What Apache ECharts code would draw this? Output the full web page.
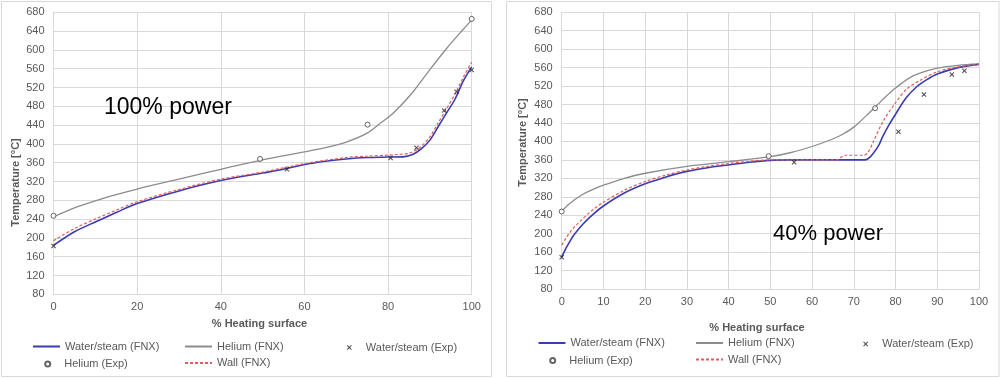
<!DOCTYPE html>
<html><head><meta charset="utf-8">
<script src="https://cdn.jsdelivr.net/npm/echarts@6/dist/echarts.min.js"></script>
<style>
html,body{margin:0;padding:0;background:#fff;width:1000px;height:378px;overflow:hidden;}
#c1{position:absolute;left:0;top:0;width:493px;height:378px;}
#c2{position:absolute;left:500px;top:0;width:500px;height:378px;}
</style>
</head><body><div id="c1"></div><div id="c2"></div>
<script>
// ---------- names ----------
const seriesNames = ['Water/steam (FNX)', 'Helium (FNX)', 'Water/steam (Exp)', 'Helium (Exp)', 'Wall (FNX)'];
const annotation100 = '100% power';
const annotation40 = '40% power';
const xAxisTitle = '% Heating surface';
const yAxisTitle = 'Temperature [°C]';
const yMin = 80, yMax = 680, yStep = 40;
const xStep100 = 20, xStep40 = 10;

// ---------- 100% power ----------
const xWaterFNX100 = [0, 5, 10, 15, 20, 30, 40, 50, 55, 60, 65, 70, 75, 80, 84, 86, 88, 90, 92, 94, 96, 98, 100];
const yWaterFNX100 = [184, 213, 234, 254, 273, 300, 322, 338, 346, 356, 363, 368, 371, 372, 373, 378, 390, 408, 437, 466, 495, 534, 564];
const xWallFNX100 = [0, 5, 10, 15, 20, 30, 40, 50, 60, 70, 75, 80, 83, 85, 87, 88, 90, 92, 94, 96, 98, 100];
const yWallFNX100 = [194, 220, 240, 259, 277, 303, 325, 340, 358, 371, 374, 376, 378, 380, 388, 395, 415, 445, 475, 506, 542, 574];
const xHeliumFNX100 = [0, 5, 10, 15, 20, 30, 40, 50, 60, 65, 70, 75, 78, 80, 82, 86, 90, 94, 98, 100];
const yHeliumFNX100 = [245, 264, 279, 292, 304, 325, 346, 366, 383, 392, 404, 423, 443, 456, 472, 511, 558, 603, 644, 664];
const xWaterExp100 = [0, 55.8, 80.6, 86.8, 93.4, 96.4, 100];
const yWaterExp100 = [183, 346, 370, 392, 471, 511, 557];
const xHeliumExp100 = [0, 49.4, 75.1, 100];
const yHeliumExp100 = [247, 368, 441, 666];

// ---------- 40% power ----------
const xWaterFNX40 = [0, 1, 2, 3, 5, 7.5, 10, 15, 20, 25, 30, 35, 40, 45, 50, 55, 72.5, 73.5, 74.5, 76, 77, 78.5, 80, 82.5, 85, 87.5, 90, 95, 100];
const yWaterFNX40 = [149, 168, 184, 198, 220, 242, 260, 288, 308, 323, 335, 343, 349, 355, 359, 360, 360, 363, 372, 392, 412, 437, 459, 494, 518, 534, 546, 560, 567];
const xWallFNX40 = [0, 1, 2, 3, 5, 7.5, 10, 15, 20, 25, 30, 35, 40, 45, 50, 55, 66, 67, 68, 72.5, 73.5, 74.7, 77.1, 80, 82.6, 85.8, 90, 94.6, 100];
const yWallFNX40 = [175, 190, 203, 214, 232, 252, 268, 294, 313, 327, 338, 346, 352, 357, 360, 360, 360, 366, 370, 370, 378, 400, 445, 484, 513, 532, 551, 561, 567];
const xHeliumFNX40 = [0, 1, 2, 3, 5, 7.5, 10, 15, 20, 30, 40, 50, 55, 60, 64, 67, 70, 73, 75.4, 78, 80, 84.2, 90, 95, 100];
const yHeliumFNX40 = [249, 258, 266, 273, 285, 296, 305, 320, 331, 346, 356, 367, 376, 389, 402, 414, 431, 456, 477, 500, 516, 542, 559, 565, 568];
const xWaterExp40 = [0, 55.7, 80.7, 86.8, 93.5, 96.5];
const yWaterExp40 = [149, 355, 421, 502, 545, 553];
const xHeliumExp40 = [0, 49.6, 75.1];
const yHeliumExp40 = [248, 368, 472];

// ---------- styling ----------
const FONT = "'Liberation Sans', Arial, Helvetica, sans-serif";
const LABEL = '#595959';
const GRIDC = '#d9d9d9';
const BLUE = '#3b3bb3';
const GREY = '#8c8c8c';
const RED = '#e65a5c';
const XPATH = 'path://M1.5,0 L5,3.5 L8.5,0 L10,1.5 L6.5,5 L10,8.5 L8.5,10 L5,6.5 L1.5,10 L0,8.5 L3.5,5 L0,1.5 Z';

function pairs(xs, ys) { return xs.map((x, i) => [x, ys[i]]); }

function legendItem(name, left, top, kind) {
  const isLine = kind === 'line';
  const cfg = {
    show: true, data: [name], left: left, top: top, padding: 0, itemGap: 0,
    itemWidth: isLine ? 27 : 5, itemHeight: isLine ? 8 : 5,
    selectedMode: false,
    textStyle: { fontSize: 11, color: LABEL, fontFamily: FONT, padding: isLine ? 0 : [0, 0, 0, 9] }
  };
  if (isLine) cfg.itemStyle = { opacity: 0 };
  return cfg;
}

function buildOption(d, L) {
  return {
    animation: false,
    backgroundColor: '#fff',
    grid: { left: L.gl, top: L.gt, width: L.gw, height: L.gh },
    xAxis: {
      type: 'value', min: 0, max: 100, interval: d.xStep,
      axisLine: { show: true, lineStyle: { color: GRIDC, width: 1 } },
      axisTick: { show: false },
      axisLabel: { color: LABEL, fontSize: 11, fontFamily: FONT, margin: 7 },
      splitLine: { show: true, lineStyle: { color: GRIDC, width: 1 } }
    },
    yAxis: {
      type: 'value', min: yMin, max: yMax, interval: yStep,
      axisLine: { show: true, lineStyle: { color: GRIDC, width: 1 } },
      axisTick: { show: false },
      axisLabel: { color: LABEL, fontSize: 11, fontFamily: FONT, margin: 9 },
      splitLine: { show: true, lineStyle: { color: GRIDC, width: 1 } }
    },
    legend: [
      legendItem(seriesNames[0], L.lg[0], L.r1, 'line'),
      legendItem(seriesNames[1], L.lg[1], L.r1, 'line'),
      legendItem(seriesNames[2], L.lg[2], L.r1 + 1, 'mark'),
      legendItem(seriesNames[3], L.lg[3], L.r2 + 1, 'mark'),
      legendItem(seriesNames[4], L.lg[4], L.r2, 'line')
    ],
    graphic: [
      { type: 'rect', silent: true, z: -10, shape: { x: L.bx, y: 1.5, width: L.bw, height: 375 },
        style: { fill: '#fff', stroke: GRIDC, lineWidth: 1 } },
      { type: 'text', silent: true, z: 100, x: L.xtX, y: L.xtY,
        style: { text: xAxisTitle, font: 'bold 11px ' + FONT, fill: LABEL, align: 'center', verticalAlign: 'middle' } },
      { type: 'text', silent: true, z: 100, x: L.ytX, y: L.ytY, rotation: Math.PI / 2,
        style: { text: yAxisTitle, font: 'bold 11px ' + FONT, fill: LABEL, align: 'center', verticalAlign: 'middle' } },
      { type: 'text', silent: true, z: 100, x: L.anX, y: L.anY,
        style: { text: d.annotation, font: L.anSize + 'px ' + FONT, fill: '#000', align: 'left', verticalAlign: 'middle' } }
    ],
    series: [
      { name: seriesNames[0], type: 'line', data: pairs(d.xW, d.yW), smooth: 0.3, symbol: 'none',
        lineStyle: { color: BLUE, width: 1.6 }, itemStyle: { color: BLUE }, z: 3 },
      { name: seriesNames[1], type: 'line', data: pairs(d.xH, d.yH), smooth: 0.3, symbol: 'none',
        lineStyle: { color: GREY, width: 1.3 }, itemStyle: { color: GREY }, z: 2 },
      { name: seriesNames[2], type: 'scatter', data: pairs(d.xWe, d.yWe), symbol: XPATH, symbolSize: 5,
        itemStyle: { color: '#262626' }, z: 6 },
      { name: seriesNames[3], type: 'scatter', data: pairs(d.xHe, d.yHe), symbol: 'circle', symbolSize: 5,
        itemStyle: { color: '#ffffff', borderColor: '#404040', borderWidth: 1 }, z: 6 },
      { name: seriesNames[4], type: 'line', data: pairs(d.xWa, d.yWa), smooth: 0.3, symbol: 'none',
        lineStyle: { color: RED, width: 1.2, type: [3, 2] }, itemStyle: { color: RED }, z: 4 }
    ]
  };
}

const c1 = echarts.init(document.getElementById('c1'), null, { renderer: 'canvas' });
c1.setOption(buildOption(
  { xStep: xStep100, annotation: annotation100,
    xW: xWaterFNX100, yW: yWaterFNX100, xH: xHeliumFNX100, yH: yHeliumFNX100,
    xWe: xWaterExp100, yWe: yWaterExp100, xHe: xHeliumExp100, yHe: yHeliumExp100,
    xWa: xWallFNX100, yWa: yWallFNX100 },
  { gl: 53.5, gt: 12.3, gw: 418.2, gh: 282, bx: 1.5, bw: 490,
    lg: [32, 184, 346.8, 44.2, 184], r1: 341, r2: 357.5,
    xtX: 259.5, xtY: 324, ytX: 16, ytY: 182.5, anX: 104, anY: 108, anSize: 23 }
));

const c2 = echarts.init(document.getElementById('c2'), null, { renderer: 'canvas' });
c2.setOption(buildOption(
  { xStep: xStep40, annotation: annotation40,
    xW: xWaterFNX40, yW: yWaterFNX40, xH: xHeliumFNX40, yH: yHeliumFNX40,
    xWe: xWaterExp40, yWe: yWaterExp40, xHe: xHeliumExp40, yHe: yHeliumExp40,
    xWa: xWallFNX40, yWa: yWallFNX40 },
  { gl: 61.7, gt: 12.3, gw: 417.3, gh: 276.7, bx: 6.5, bw: 492.5,
    lg: [37.5, 195, 363.2, 49.2, 195], r1: 337.5, r2: 354,
    xtX: 257, xtY: 327.7, ytX: 23, ytY: 142.5, anX: 273, anY: 233.7, anSize: 22 }
));
</script></body></html>
